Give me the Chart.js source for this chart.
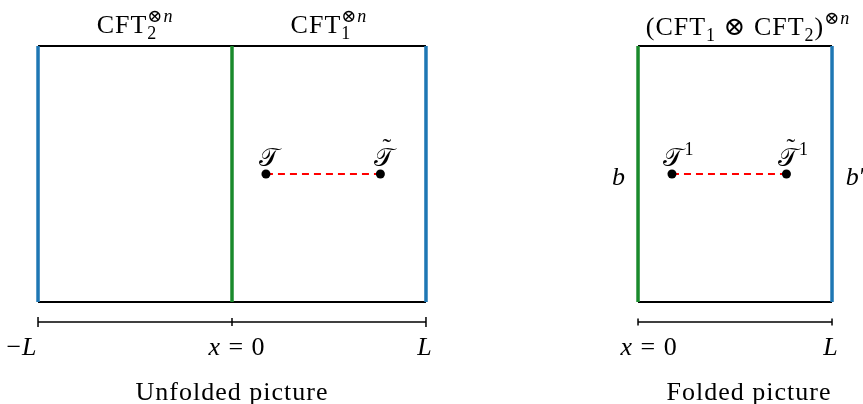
<!DOCTYPE html>
<html>
<head>
<meta charset="utf-8">
<script src="https://cdn.jsdelivr.net/npm/chart.js@4/dist/chart.umd.min.js"></script>
<style>
  html, body { margin: 0; padding: 0; background: #fff; overflow: hidden; width: 863px; height: 404px; }
  canvas { position: absolute; top: 0; }
  #unfolded { left: 0; }
  #folded { left: 406px; }
</style>
</head>
<body>
<canvas id="unfolded" width="464" height="404"></canvas>
<canvas id="folded" width="457" height="404"></canvas>
<script>
// Strip geometry: x in units of L, y in units of the strip height
const unfoldedWalls = [-1, 1];          // x = -L and x = L
const interfaceX = [0];                 // x = 0, where CFT_1 meets CFT_2
const foldedWalls = [0, 1];             // boundaries b (x = 0) and b' (x = L)
const stripBottom = 0;
const stripTop = 1;
const operatorX = [0.175, 0.765];       // positions of T and T~
const operatorY = 0.5;
const rulerY = -0.078;

// Text (mini TeX: _ subscript, ^ superscript, single letters italic, U+0303 = tilde accent)
const unfoldedTitles = ['CFT_2^{⊗n}', 'CFT_1^{⊗n}'];
const unfoldedTitleX = [-0.5, 0.5];
const foldedTitle = '(CFT_1 ⊗ CFT_2)^{⊗n}';
const unfoldedOperators = ['𝒯', '𝒯\u0303'];
const foldedOperators = ['𝒯^1', '𝒯\u0303^1'];
const unfoldedRulerTicks = [-1, 0, 1];
const unfoldedRulerLabels = ['−L', 'x = 0', 'L'];
const foldedRulerTicks = [0, 1];
const foldedRulerLabels = ['x = 0', 'L'];
const boundaryLabels = ['b', 'b′'];
const captions = ['Unfolded picture', 'Folded picture'];

const BLUE = '#1f77b4';
const GREEN = '#1a8a2c';
const SERIF = '"Liberation Serif", "DejaVu Serif", serif';
const FS = 26;
const SPACING = '1px';

function fontFor(size, italic) {
  return (italic ? 'italic ' : '') + size + 'px ' + SERIF;
}

function parseMath(src) {
  const segs = [];
  const pushText = (txt, pos, stack) => {
    const re = /[A-Za-z]+|[^A-Za-z]+/g;
    let m, first = true;
    while ((m = re.exec(txt))) {
      let t = m[0];
      const tilde = t.includes('\u0303');
      t = t.replace(/\u0303/g, '');
      segs.push({ t, tilde, it: /^[A-Za-z]$/.test(t), pos, stack: stack && first });
      first = false;
    }
  };
  let buf = '', i = 0;
  while (i < src.length) {
    const c = src[i];
    if (c === '_' || c === '^') {
      if (buf) { pushText(buf); buf = ''; }
      let arg;
      if (src[i + 1] === '{') { const j = src.indexOf('}', i); arg = src.slice(i + 2, j); i = j + 1; }
      else { const cp = String.fromCodePoint(src.codePointAt(i + 1)); arg = cp; i += 1 + cp.length; }
      const pos = c === '_' ? 'sub' : 'sup';
      const prev = segs[segs.length - 1];
      pushText(arg, pos, !!(prev && prev.pos && prev.pos !== pos));
    } else { buf += c; i++; }
  }
  if (buf) pushText(buf);
  return segs;
}

function layoutMath(ctx, segs, size) {
  let x = 0, prevStart = 0;
  const items = [];
  for (const s of segs) {
    const sz = s.pos ? Math.round(size * 0.7) : size;
    ctx.font = fontFor(sz, s.it);
    const w = ctx.measureText(s.t).width;
    const start = s.stack ? prevStart : x;
    items.push({ s, sz, x: start, w });
    prevStart = start;
    x = Math.max(x, start + w);
  }
  return { items, width: x };
}

// align: 'center' | 'left' | 'right' | 'first' (first glyph centred on x)
function drawMath(ctx, src, x, y, align, size) {
  size = size || FS;
  ctx.letterSpacing = SPACING;
  const lay = layoutMath(ctx, parseMath(src), size);
  let x0 = x;
  if (align === 'center') x0 = x - lay.width / 2;
  else if (align === 'right') x0 = x - lay.width;
  else if (align === 'first') x0 = x - lay.items[0].w / 2;
  ctx.textAlign = 'left';
  ctx.textBaseline = 'alphabetic';
  ctx.fillStyle = '#000';
  for (const it of lay.items) {
    ctx.font = fontFor(it.sz, it.s.it);
    let dy = 0;
    if (it.s.pos === 'sub') dy = 0.24 * size;
    if (it.s.pos === 'sup') dy = -0.42 * size;
    ctx.fillText(it.s.t, x0 + it.x, y + dy);
    if (it.s.tilde) {
      ctx.font = fontFor(it.sz, false);
      ctx.textAlign = 'center';
      ctx.fillText('˜', x0 + it.x + it.w / 2 + 3, y + dy - 10);
      ctx.textAlign = 'left';
    }
  }
}

function drawPlain(ctx, txt, x, y, size) {
  ctx.letterSpacing = SPACING;
  ctx.font = fontFor(size, false);
  ctx.textAlign = 'center';
  ctx.textBaseline = 'alphabetic';
  ctx.fillStyle = '#000';
  ctx.fillText(txt, x, y);
}

function seg(x0, y0, x1, y1) { return [{ x: x0, y: y0 }, { x: x1, y: y1 }]; }

function lineSet(data, color, width, order, dash) {
  return {
    data, showLine: true, borderColor: color, borderWidth: width, pointRadius: 0,
    borderDash: dash || [], order, clip: false, borderCapStyle: 'butt'
  };
}

function stripDatasets(left, right, leftColor, rightColor, inner, ticks, tickSizes) {
  const sets = [
    lineSet(seg(left, stripTop, right, stripTop), '#000', 2, 5),
    lineSet(seg(left, stripBottom, right, stripBottom), '#000', 2, 5),
    lineSet(seg(left, stripBottom, left, stripTop), leftColor, 3.5, 2),
    lineSet(seg(right, stripBottom, right, stripTop), rightColor, 3.5, 2),
    lineSet(seg(operatorX[0], operatorY, operatorX[1], operatorY), '#ff0000', 2, 4, [7, 5]),
    {
      data: operatorX.map(x => ({ x, y: operatorY })), showLine: false,
      pointRadius: 4.5, pointBackgroundColor: '#000', pointBorderWidth: 0, order: 1, clip: false
    },
    lineSet(seg(ticks[0], rulerY, ticks[ticks.length - 1], rulerY), '#000', 1.5, 5),
    {
      data: ticks.map(x => ({ x, y: rulerY })), showLine: false, pointStyle: 'line', rotation: 90,
      pointRadius: tickSizes, borderColor: '#000', borderWidth: 1.5, order: 5, clip: false
    }
  ];
  inner.forEach(x => sets.push(lineSet(seg(x, stripBottom, x, stripTop), GREEN, 3.5, 2)));
  return sets;
}

function baseOptions(xMax) {
  return {
    responsive: false, animation: false, events: [],
    layout: { padding: 0, autoPadding: false },
    plugins: { legend: { display: false }, tooltip: { enabled: false } },
    scales: {
      x: { type: 'linear', min: -1.196, max: xMax, display: false },
      y: { type: 'linear', min: -0.3984, max: 1.1797, display: false }
    }
  };
}

const unfoldedText = {
  id: 'unfoldedText',
  afterDraw(chart) {
    const { ctx, scales: { x, y } } = chart;
    ctx.save();
    const top = y.getPixelForValue(stripTop);
    unfoldedTitles.forEach((t, i) => drawMath(ctx, t, x.getPixelForValue(unfoldedTitleX[i]), top - 13, 'center'));
    const oy = y.getPixelForValue(operatorY) - 8;
    unfoldedOperators.forEach((t, i) => drawMath(ctx, t, x.getPixelForValue(operatorX[i]) + 4, oy, 'first'));
    const ry = y.getPixelForValue(rulerY) + 33;
    const dx = [-16, 5, -1];
    unfoldedRulerTicks.forEach((v, i) => drawMath(ctx, unfoldedRulerLabels[i], x.getPixelForValue(v) + dx[i], ry, 'center'));
    drawPlain(ctx, captions[0], x.getPixelForValue(0), 400, FS);
    ctx.restore();
  }
};

const foldedText = {
  id: 'foldedText',
  afterDraw(chart) {
    const { ctx, scales: { x, y } } = chart;
    ctx.save();
    const top = y.getPixelForValue(stripTop);
    drawMath(ctx, foldedTitle, x.getPixelForValue(0.5) + 13, top - 11, 'center');
    const oy = y.getPixelForValue(operatorY) - 8;
    foldedOperators.forEach((t, i) => drawMath(ctx, t, x.getPixelForValue(operatorX[i]) + 2, oy, 'first'));
    const by = y.getPixelForValue(operatorY) + 11;
    drawMath(ctx, boundaryLabels[0], x.getPixelForValue(foldedWalls[0]) - 19, by, 'center');
    drawMath(ctx, boundaryLabels[1], x.getPixelForValue(foldedWalls[1]) + 24, by, 'center');
    const ry = y.getPixelForValue(rulerY) + 33;
    const dx = [11, -1];
    foldedRulerTicks.forEach((v, i) => drawMath(ctx, foldedRulerLabels[i], x.getPixelForValue(v) + dx[i], ry, 'center'));
    drawPlain(ctx, captions[1], x.getPixelForValue(0.5) + 14, 400, FS);
    ctx.restore();
  }
};

new Chart(document.getElementById('unfolded'), {
  type: 'scatter',
  data: { datasets: stripDatasets(unfoldedWalls[0], unfoldedWalls[1], BLUE, BLUE, interfaceX, unfoldedRulerTicks, [5, 4, 5]) },
  options: baseOptions(1.196),
  plugins: [unfoldedText]
});

new Chart(document.getElementById('folded'), {
  type: 'scatter',
  data: { datasets: stripDatasets(foldedWalls[0], foldedWalls[1], GREEN, BLUE, [], foldedRulerTicks, [3.5, 3.5]) },
  options: baseOptions(-1.196 + 457 / 194),
  plugins: [foldedText]
});
</script>
</body>
</html>
